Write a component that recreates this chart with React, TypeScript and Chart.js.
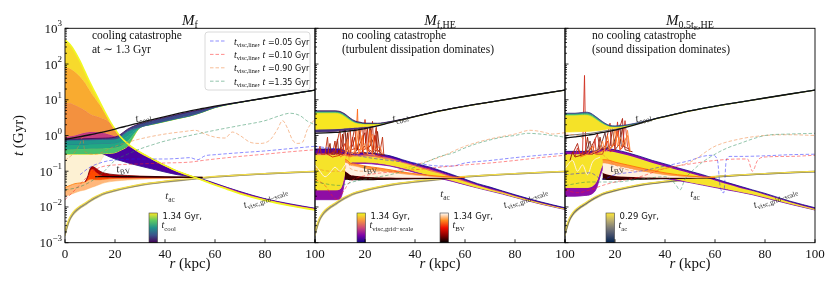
import { useEffect, useRef } from 'react';
import { Chart, registerables } from 'chart.js';

Chart.register(...registerables);

// ======================= DATA =======================
const X_TICKS = [0, 20, 40, 60, 80, 100];
const Y_TICK_EXP = [-3, -2, -1, 0, 1, 2, 3];
const LEGEND_TIMES = ['0.05', '0.10', '0.90', '1.35'];
const COLORBAR_TIMES = [['1.34 Gyr,'], ['1.34 Gyr,', '1.34 Gyr,'], ['0.29 Gyr,']];

// sound-crossing time t_ac (shared)
const TAC_R = [0, 1, 2, 3, 4, 6, 8, 10, 12, 15, 20, 25, 30, 40, 50, 60, 70, 80, 90, 100];
const TAC_MID = [0.0018, 0.0032, 0.0048, 0.0062, 0.0075, 0.0098, 0.012, 0.015, 0.018, 0.023, 0.029, 0.035, 0.041, 0.051, 0.06, 0.07, 0.078, 0.085, 0.092, 0.098];
const TAC_HI = [0.0021, 0.0036, 0.0053, 0.0068, 0.0082, 0.0106, 0.013, 0.016, 0.0192, 0.0243, 0.0305, 0.0366, 0.0428, 0.053, 0.062, 0.0715, 0.0795, 0.0865, 0.093, 0.099];
const TAC_LO = [0.00155, 0.0028, 0.0043, 0.0057, 0.0069, 0.0091, 0.0112, 0.014, 0.0169, 0.0218, 0.0277, 0.0336, 0.0395, 0.0492, 0.058, 0.0685, 0.0765, 0.0835, 0.091, 0.097];

// ---------- Panel 1: M_f ----------
const P1_R = [0, 2, 4, 6, 8, 10, 12, 14, 16, 18, 20, 22, 26, 30, 35, 40, 45, 50, 55, 60, 65, 70, 80, 90, 100];
const P1_VGS_LOW = [0.025, 0.03, 0.036, 0.045, 0.06, 0.08, 0.12, 0.18, 0.28, 0.25, 0.22, 0.2, 0.165, 0.14, 0.115, 0.095, 0.08, 0.072, 0.06, 0.046, 0.035, 0.027, 0.017, 0.0122, 0.0092];
const P1_VGS_0 = [0.4, 0.4, 0.4, 0.4, 0.4, 0.38, 0.36, 0.33, 0.29, 0.25, 0.22, 0.2, 0.165, 0.14, 0.115, 0.095, 0.08, 0.072, 0.06, 0.046, 0.035, 0.027, 0.017, 0.0122, 0.0092];
const P1_VGS_1 = [0.6, 0.6, 0.6, 0.6, 0.6, 0.6, 0.6, 0.6, 0.6, 0.6, 0.58, 0.55, 0.48, 0.32, 0.21, 0.14, 0.098, 0.074, 0.058, 0.044, 0.034, 0.026, 0.0165, 0.0118, 0.009];
const P1_VGS_2 = [0.9, 0.95, 1.0, 1.1, 1.2, 1.25, 1.25, 1.2, 1.15, 1.05, 0.95, 0.85, 0.5, 0.335, 0.218, 0.143, 0.099, 0.074, 0.057, 0.043, 0.033, 0.025, 0.016, 0.0114, 0.0086];
const P1_VGS_3 = [8, 8, 7, 6, 5, 4, 3.5, 3.2, 2.8, 2.2, 1.45, 0.9, 0.51, 0.337, 0.219, 0.144, 0.099, 0.074, 0.057, 0.042, 0.032, 0.024, 0.0157, 0.0112, 0.0085];
const P1_VGS_4 = [80, 75, 60, 45, 30, 18, 11, 7, 4.2, 2.4, 1.48, 0.93, 0.515, 0.338, 0.22, 0.145, 0.1, 0.075, 0.057, 0.042, 0.032, 0.024, 0.0156, 0.0111, 0.0084];
const P1_VGS_5 = [470, 350, 220, 120, 60, 30, 16, 8.5, 4.5, 2.5, 1.5, 0.95, 0.52, 0.34, 0.22, 0.145, 0.1, 0.075, 0.056, 0.041, 0.031, 0.0235, 0.0153, 0.0108, 0.0082];

const P1_CR = [0, 5, 10, 15, 20, 22, 25, 30, 35, 40, 45, 50, 55, 60, 70, 80, 90, 100];
const P1_TCOOL_INIT = [0.78, 0.9, 1.05, 1.25, 1.5, 1.65, 1.85, 2.3, 2.8, 3.4, 4.1, 4.9, 5.7, 6.6, 8.6, 11.2, 14.5, 18.7];
const P1_TC_A = [0.79, 0.8, 0.82, 0.84, 0.9, 1.05, 1.5, 2.15, 2.65, 3.2, 3.85, 4.6, 5.4, 6.4, 8.55, 11.15, 14.45, 18.65];
const P1_TC_B = [0.74, 0.75, 0.76, 0.78, 0.8, 0.9, 1.3, 1.72, 2.12, 2.55, 3.05, 3.6, 4.6, 6.15, 8.5, 11.1, 14.4, 18.6];
const P1_TC_C = [0.55, 0.57, 0.58, 0.6, 0.62, 0.68, 0.95, 1.68, 2.08, 2.5, 3.0, 3.55, 4.55, 6.1, 8.5, 11.1, 14.4, 18.6];
const P1_TC_D = [0.4, 0.42, 0.43, 0.44, 0.46, 0.5, 0.7, 1.66, 2.06, 2.47, 2.97, 3.52, 4.52, 6.05, 8.45, 11.05, 14.35, 18.55];
const P1_TC_E = [0.3, 0.3, 0.3, 0.31, 0.33, 0.38, 0.5, 1.65, 2.05, 2.45, 2.95, 3.5, 4.5, 6.0, 8.4, 11.0, 14.3, 18.5];

const P1_HR = [0, 2, 4, 6, 8, 9, 10, 11, 12, 14, 16, 20, 25, 30, 40, 50, 55];
const P1_BV_PALE = [0.02, 0.022, 0.025, 0.028, 0.03, 0.032, 0.034, 0.036, 0.038, 0.043, 0.048, 0.053, 0.057, 0.06, 0.063, 0.066, 0.067];
const P1_BV_ORANGE = [0.035, 0.04, 0.045, 0.047, 0.05, 0.055, 0.06, 0.06, 0.058, 0.058, 0.06, 0.063, 0.064, 0.065, 0.066, 0.067, 0.067];
const P1_BV_RED = [[8, 0.05], [9, 0.065], [10, 0.1], [11, 0.115], [12, 0.1], [14, 0.078], [16, 0.07], [20, 0.067], [25, 0.066], [30, 0.066], [40, 0.066], [50, 0.067], [55, 0.067]];
const P1_BV_DARK = [[8, 0.05], [9, 0.068], [10, 0.115], [11, 0.135], [12, 0.125], [14, 0.1], [16, 0.088], [20, 0.08], [25, 0.076], [30, 0.073], [40, 0.07], [50, 0.068], [55, 0.067]];
const P1_BV_BLACK = [[12, 0.07], [16, 0.071], [20, 0.071], [30, 0.07], [40, 0.069], [50, 0.068], [55, 0.067]];

const P1_LINE_005 = [[6, 0.08], [10, 0.13], [14, 0.17], [18, 0.2], [22, 0.21], [28, 0.22], [34, 0.22], [40, 0.22], [46, 0.23], [50, 0.24], [53, 0.21], [56, 0.27], [60, 0.29], [70, 0.33], [80, 0.37], [90, 0.43], [100, 0.5]];
const P1_LINE_010 = [[0, 0.016], [4, 0.03], [8, 0.06], [12, 0.11], [16, 0.14], [20, 0.15], [30, 0.16], [40, 0.17], [50, 0.18], [55, 0.2], [60, 0.22], [70, 0.26], [80, 0.3], [90, 0.35], [100, 0.4]];
const P1_LINE_090 = [[0, 0.2], [4, 0.35], [6, 0.6], [7, 0.9], [8, 0.35], [12, 0.3], [20, 0.5], [30, 0.8], [40, 1.1], [48, 1.3], [52, 1.4], [56, 1.1], [60, 0.9], [64, 0.85], [67, 1.25], [70, 1.0], [74, 0.65], [78, 0.6], [82, 0.75], [85, 1.5], [87, 2.6], [89, 1.6], [91, 0.75], [93, 0.6], [95, 0.65], [97, 1.5], [100, 2.9]];
const P1_LINE_135 = [[0, 0.03], [5, 0.035], [10, 0.05], [15, 0.09], [20, 0.2], [25, 0.3], [30, 0.42], [35, 0.55], [40, 0.7], [50, 1.0], [60, 1.4], [70, 1.9], [80, 2.6], [86, 3.6], [90, 4.2], [94, 3.6], [97, 2.5], [100, 2.0]];

// ---------- Panel 2: M_f,HE ----------
const P2_R = [0, 4, 8, 10, 11, 12, 13, 14, 16, 20, 25, 30, 35, 40, 46, 50, 55, 60, 65, 70, 75, 80, 90, 100];
const P2_VGS_0 = [0.42, 0.42, 0.42, 0.42, 0.4, 0.37, 0.34, 0.33, 0.33, 0.33, 0.31, 0.27, 0.21, 0.165, 0.13, 0.105, 0.08, 0.06, 0.045, 0.036, 0.028, 0.022, 0.014, 0.0095];
const P2_VGS_1 = [0.32, 0.32, 0.32, 0.32, 0.31, 0.3, 0.29, 0.29, 0.29, 0.29, 0.27, 0.24, 0.19, 0.15, 0.115, 0.095, 0.072, 0.055, 0.042, 0.033, 0.027, 0.021, 0.0135, 0.0092];
const P2_VGS_2 = [0.28, 0.28, 0.28, 0.28, 0.27, 0.27, 0.26, 0.26, 0.26, 0.26, 0.24, 0.21, 0.17, 0.135, 0.1, 0.085, 0.065, 0.05, 0.039, 0.031, 0.025, 0.02, 0.013, 0.009];
const P2_VGS_3 = [0.03, 0.03, 0.03, 0.032, 0.045, 0.09, 0.14, 0.17, 0.18, 0.18, 0.17, 0.15, 0.125, 0.1, 0.078, 0.068, 0.055, 0.044, 0.035, 0.029, 0.024, 0.019, 0.0125, 0.0087];
const P2_VGS_4 = [0.016, 0.016, 0.016, 0.017, 0.025, 0.06, 0.12, 0.15, 0.165, 0.165, 0.155, 0.14, 0.115, 0.092, 0.072, 0.063, 0.052, 0.042, 0.034, 0.028, 0.023, 0.0185, 0.0122, 0.0085];

const C_R = [0, 4, 8, 10, 12, 14, 16, 18, 20, 25, 30, 35, 40, 50, 60, 70, 80, 90, 100];
const P2_TCOOL_INIT = [1.15, 1.18, 1.22, 1.25, 1.3, 1.35, 1.4, 1.48, 1.55, 1.85, 2.3, 2.8, 3.4, 4.9, 6.6, 8.6, 11.2, 14.5, 18.7];
const P2_TC_A = [1.25, 1.28, 1.32, 1.35, 1.4, 1.45, 1.5, 1.58, 1.65, 1.9, 2.32, 2.8, 3.4, 4.9, 6.6, 8.6, 11.2, 14.5, 18.7];
const P2_TC_B = [1.5, 1.52, 1.55, 1.58, 1.62, 1.66, 1.7, 1.74, 1.78, 1.95, 2.33, 2.78, 3.35, 4.8, 6.5, 8.5, 11.0, 14.3, 18.5];
const P2_TC_C = [4.3, 4.3, 4.3, 4.1, 3.4, 2.7, 2.3, 2.15, 2.1, 2.1, 2.38, 2.82, 3.4, 4.9, 6.6, 8.6, 11.2, 14.5, 18.7];
const P2_TC_D = [4.6, 4.6, 4.6, 4.4, 3.7, 2.9, 2.4, 2.25, 2.15, 2.15, 2.42, 2.84, 3.42, 4.92, 6.62, 8.6, 11.2, 14.5, 18.7];
const P2_TC_E = [4.9, 4.9, 4.9, 4.7, 4.0, 3.1, 2.55, 2.35, 2.22, 2.2, 2.45, 2.86, 3.44, 4.94, 6.64, 8.62, 11.22, 14.52, 18.72];

const P2_WR = [12, 13, 14, 16, 18, 20, 25, 30, 35, 40, 45, 50, 55, 60];
const P2_BV_0 = [0.06, 0.06, 0.058, 0.058, 0.058, 0.058, 0.059, 0.06, 0.061, 0.062, 0.063, 0.064, 0.065, 0.066];
const P2_BV_1 = [0.1, 0.09, 0.08, 0.075, 0.072, 0.07, 0.068, 0.067, 0.066, 0.066, 0.066, 0.066, 0.066, 0.067];
const P2_BV_3 = [0.18, 0.17, 0.15, 0.14, 0.13, 0.12, 0.105, 0.095, 0.085, 0.078, 0.073, 0.069, 0.067, 0.067];
const P2_BV_2 = [0.22, 0.2, 0.17, 0.16, 0.15, 0.14, 0.125, 0.11, 0.095, 0.085, 0.078, 0.072, 0.069, 0.067];
const P2_BV_WHITE = [[0, 0.15], [2, 0.1], [4, 0.07], [6, 0.09], [8, 0.13], [10, 0.1], [12, 0.15]];
const P2_SPIKE_A = [[4, 0.35], [5, 0.3], [6, 0.6], [6.5, 0.3], [8, 0.3], [9, 0.8], [9.5, 0.3], [11, 0.3], [12, 0.35], [13, 1.2], [13.5, 0.3], [15, 0.3], [17, 0.4], [18, 1.5], [19, 0.35], [21, 0.3], [22, 2.0], [23, 0.4], [24, 0.3], [25, 1.3], [26, 0.3], [28, 0.28]];
const P2_SPIKE_B = [[5, 0.3], [7, 0.25], [10, 0.28], [12, 0.6], [12.5, 0.3], [14, 0.28], [15, 0.9], [16, 0.3], [19, 0.35], [20, 2.8], [21, 0.4], [23, 0.3], [24, 1.0], [25, 0.3], [27, 0.25]];
const P2_SPIKE_C = [[10, 0.25], [12, 0.3], [14, 0.25], [16, 0.3], [17, 5.5], [17.5, 0.3], [18, 0.35], [19, 1.0], [19.5, 0.3], [21, 0.3], [22, 1.4], [23, 0.3], [26, 0.25]];
const P2_SPIKE_D = [[12, 0.28], [14, 0.5], [15, 0.3], [16, 0.4], [17, 0.3], [20, 0.6], [21, 0.3], [24, 0.28]];
const P2_SPIKE_E = [[7, 0.3], [8, 0.7], [8.5, 0.3], [10, 0.35], [11, 1.1], [11.5, 0.35], [14, 0.35], [16, 1.8], [16.5, 0.4], [18, 0.4], [20, 0.5], [21, 1.6], [21.5, 0.4], [23, 0.35], [24.5, 1.7], [25, 0.4], [27, 0.3]];
const P2_SPIKE_F = [[1, 0.3], [2, 0.5], [2.5, 0.3], [4, 0.3], [5, 0.9], [5.5, 0.3], [8, 0.35], [10, 1.5], [10.5, 0.35], [13, 0.4], [14, 2.5], [14.5, 0.4], [17, 0.45], [19, 2.2], [19.5, 0.4], [22, 0.5], [23, 2.5], [23.5, 0.4], [26, 0.35], [27, 0.9], [27.5, 0.3]];
const P2_SPIKE_G = [[9, 0.3], [11, 0.5], [12, 2.0], [12.5, 0.4], [15, 0.5], [16, 0.9], [17, 0.4], [18, 0.6], [20, 1.2], [20.5, 0.4], [22, 0.5], [24, 1.0], [25, 0.4]];
const P2_SPIKE_H = [[12, 0.3], [13, 0.8], [14, 0.3], [16, 0.35], [18, 2.4], [18.5, 0.4], [21, 0.5], [23, 1.1], [24, 0.4], [26, 0.5], [27, 0.3]];

const P2_LINE_005 = [[0, 0.5], [5, 0.45], [10, 0.4], [15, 0.3], [20, 0.25], [30, 0.2], [40, 0.17], [50, 0.14], [55, 0.14], [60, 0.17], [70, 0.2], [80, 0.24], [90, 0.28], [100, 0.32]];
const P2_LINE_010 = [[0, 0.06], [4, 0.04], [7, 0.02], [9, 0.016], [11, 0.025], [14, 0.05], [20, 0.075], [30, 0.095], [40, 0.11], [50, 0.13], [60, 0.15], [70, 0.17], [80, 0.2], [90, 0.24], [100, 0.28]];
const P2_LINE_090 = [[0, 0.12], [6, 0.1], [12, 0.1], [13, 0.6], [14, 0.12], [20, 0.1], [30, 0.1], [40, 0.15], [50, 0.25], [60, 0.5], [70, 0.8], [80, 1.1], [86, 1.4], [90, 1.3], [95, 1.1], [100, 1.2]];
const P2_LINE_135 = [[0, 0.05], [10, 0.04], [15, 0.05], [20, 0.06], [30, 0.08], [40, 0.13], [46, 0.2], [50, 0.26], [55, 0.32], [60, 0.45], [65, 0.6], [70, 0.75], [75, 0.9], [80, 1.0], [85, 1.15], [90, 1.1], [95, 1.0], [100, 0.9]];

// ---------- Panel 3: M_0.5tE,HE ----------
const P3_R = [0, 4, 8, 10, 12, 13, 14, 15, 16, 18, 20, 25, 30, 35, 40, 45, 50, 55, 60, 65, 70, 75, 80, 90, 100];
const P3_VGS_0 = [0.36, 0.36, 0.36, 0.36, 0.37, 0.38, 0.4, 0.42, 0.43, 0.42, 0.4, 0.33, 0.26, 0.2, 0.16, 0.125, 0.1, 0.08, 0.062, 0.048, 0.038, 0.03, 0.024, 0.0145, 0.0095];
const P3_VGS_1 = [0.3, 0.3, 0.3, 0.3, 0.31, 0.32, 0.34, 0.36, 0.37, 0.36, 0.34, 0.28, 0.22, 0.17, 0.135, 0.108, 0.088, 0.07, 0.055, 0.043, 0.034, 0.028, 0.022, 0.0135, 0.0088];
const P3_VGS_2 = [0.035, 0.035, 0.035, 0.036, 0.045, 0.06, 0.1, 0.15, 0.17, 0.17, 0.16, 0.13, 0.105, 0.085, 0.07, 0.06, 0.05, 0.043, 0.037, 0.032, 0.027, 0.023, 0.019, 0.0125, 0.0084];
const P3_VGS_3 = [0.02, 0.02, 0.021, 0.022, 0.028, 0.04, 0.07, 0.11, 0.13, 0.135, 0.13, 0.11, 0.09, 0.075, 0.063, 0.055, 0.048, 0.041, 0.035, 0.03, 0.026, 0.022, 0.018, 0.012, 0.0082];

const P3_TCOOL_INIT = [0.85, 0.92, 1.0, 1.05, 1.1, 1.18, 1.25, 1.33, 1.42, 1.75, 2.2, 2.8, 3.4, 4.9, 6.6, 8.6, 11.2, 14.5, 18.7];
const P3_TC_GREY = [1.0, 1.05, 1.12, 1.15, 1.2, 1.28, 1.35, 1.42, 1.5, 1.8, 2.25, 2.8, 3.4, 4.9, 6.6, 8.6, 11.2, 14.5, 18.7];
const P3_TC_B = [1.25, 1.27, 1.3, 1.32, 1.35, 1.4, 1.48, 1.55, 1.6, 1.8, 2.22, 2.76, 3.35, 4.8, 6.5, 8.5, 11.0, 14.3, 18.5];
const P3_TC_C = [3.7, 3.7, 3.8, 3.6, 3.0, 2.4, 2.0, 1.8, 1.75, 1.9, 2.25, 2.8, 3.4, 4.9, 6.6, 8.6, 11.2, 14.5, 18.7];
const P3_TC_D = [4.0, 4.0, 4.2, 4.0, 3.3, 2.6, 2.1, 1.85, 1.8, 1.95, 2.3, 2.82, 3.42, 4.92, 6.62, 8.6, 11.2, 14.5, 18.7];
const P3_TC_E = [4.2, 4.2, 4.5, 4.3, 3.5, 2.75, 2.2, 1.9, 1.85, 2.0, 2.35, 2.85, 3.44, 4.94, 6.64, 8.62, 11.22, 14.52, 18.72];

const P3_WR = [15, 16, 18, 20, 25, 30, 35, 40, 45, 50, 55, 60];
const P3_BV_0 = [0.06, 0.06, 0.059, 0.059, 0.06, 0.06, 0.061, 0.062, 0.063, 0.064, 0.065, 0.066];
const P3_BV_1 = [0.09, 0.085, 0.078, 0.074, 0.07, 0.068, 0.067, 0.066, 0.066, 0.066, 0.066, 0.067];
const P3_BV_3 = [0.17, 0.17, 0.16, 0.15, 0.125, 0.105, 0.09, 0.08, 0.074, 0.07, 0.068, 0.067];
const P3_BV_2 = [0.21, 0.21, 0.2, 0.18, 0.15, 0.125, 0.105, 0.09, 0.08, 0.073, 0.069, 0.067];
const P3_BV_WHITE = [[0, 0.12], [3, 0.2], [5, 0.1], [7, 0.15], [9, 0.08], [11, 0.18], [14, 0.25]];
const P3_SPIKE_A = [[4, 0.25], [5, 0.45], [6, 0.3], [7, 0.3], [7.8, 48], [8.3, 0.35], [9, 0.3], [11, 0.3], [12, 0.8], [12.5, 0.3], [15, 0.3], [17, 0.7], [18, 0.35], [20, 0.4], [21, 2.4], [22, 0.4], [23, 0.45], [24, 2.6], [25, 0.5], [26, 0.35]];
const P3_SPIKE_B = [[2, 0.2], [3, 0.35], [4, 0.25], [8, 0.3], [9, 0.9], [10, 0.3], [13, 0.35], [14, 0.9], [15, 0.4], [18, 0.5], [19, 1.6], [20, 0.4], [22, 0.6], [23, 1.8], [24, 0.4], [27, 0.35]];
const P3_SPIKE_C = [[6, 0.25], [9, 0.3], [11, 0.5], [12, 0.3], [16, 0.4], [17, 1.0], [18, 0.4], [20, 0.6], [21, 1.3], [22, 0.4], [25, 1.0], [26, 0.35]];
const P3_SPIKE_D = [[8, 0.3], [10, 0.7], [11, 0.3], [14, 0.45], [16, 1.2], [17, 0.4], [19, 0.5], [22, 2.0], [22.5, 0.5], [24, 0.5]];
const P3_SPIKE_E = [[3, 0.3], [5, 0.6], [6, 0.3], [10, 0.4], [13, 1.1], [14, 0.4], [16, 0.5], [18, 2.2], [18.5, 0.5], [20, 0.6], [23, 3.0], [23.5, 0.5], [26, 0.4]];
const P3_SPIKE_F = [[10, 0.3], [14, 0.4], [15, 0.7], [16, 0.35], [19, 0.5], [20, 1.6], [21, 0.5], [22, 0.9], [24, 0.5], [25, 1.4], [26, 0.4]];

const P3_LINE_005 = [[0, 0.08], [10, 0.09], [15, 0.06], [20, 0.08], [30, 0.1], [40, 0.14], [50, 0.2], [55, 0.26], [59, 0.28], [61, 0.2], [62, 0.04], [63.5, 0.025], [64.5, 0.2], [66, 0.26], [70, 0.26], [80, 0.27], [90, 0.29], [100, 0.3]];
const P3_LINE_010 = [[0, 0.03], [5, 0.025], [10, 0.03], [15, 0.04], [20, 0.05], [30, 0.07], [40, 0.12], [50, 0.16], [60, 0.2], [70, 0.22], [73, 0.22], [75, 0.1], [77, 0.2], [80, 0.25], [90, 0.26], [100, 0.28]];
const P3_LINE_090 = [[0, 1.1], [5, 1.0], [10, 0.6], [15, 0.3], [20, 0.15], [30, 0.1], [40, 0.12], [50, 0.18], [60, 0.5], [70, 0.8], [80, 1.0], [90, 1.05], [100, 1.0]];
const P3_LINE_135 = [[0, 0.04], [10, 0.05], [20, 0.05], [30, 0.06], [40, 0.07], [44, 0.045], [46, 0.03], [48, 0.06], [52, 0.12], [55, 0.18], [60, 0.3], [65, 0.45], [70, 0.6], [75, 0.8], [80, 1.0], [90, 1.1], [100, 1.15]];

// ======================= STYLE =======================
const W = 830, H = 285;
const PLOT_TOP = 28.3, PLOT_BOTTOM = 242.7, PANEL_W = 250;
const PANEL_LEFT = [65, 315, 565];
const SERIF = "'Liberation Serif', 'DejaVu Serif', serif";
const SANS = "'DejaVu Sans', 'Liberation Sans', sans-serif";
const it = (s: number) => `italic ${s}px ${SERIF}`;
const rm = (s: number) => `${s}px ${SERIF}`;
const sf = (s: number) => `${s}px ${SANS}`;
const THIN = ['rgba(30,30,255,0.5)', 'rgba(255,30,30,0.5)', 'rgba(240,125,50,0.5)', 'rgba(40,140,90,0.5)'];
const VIRIDIS = ['#440154', '#3b528b', '#21918c', '#5ec962', '#fde725'];
const PLASMA = ['#0d0887', '#7e03a8', '#cc4778', '#f89540', '#f0f921'];
const HOT = ['#000000', '#8a0000', '#f01000', '#ff8a20', '#ffffff'];
const CIVIDIS = ['#00224e', '#414d6b', '#7c7b78', '#bcaf6f', '#fee838'];

type Seg = { s: string; f: string; dy?: number };
const sub = (name: string, size = 11): Seg[] => [{ s: 't', f: it(size) }, { s: name, f: rm(size * 0.68), dy: size * 0.25 }];

const TITLES: Seg[][] = [
  [{ s: 'M', f: it(15) }, { s: 'f', f: rm(10), dy: 3 }],
  [{ s: 'M', f: it(15) }, { s: 'f,HE', f: rm(10), dy: 3 }],
  [{ s: 'M', f: it(15) }, { s: '0.5t', f: rm(10), dy: 3 }, { s: 'E', f: rm(7), dy: 5 }, { s: ',HE', f: rm(10), dy: 3 }],
];
const NOTES = [
  ['cooling catastrophe', 'at \u223C 1.3 Gyr'],
  ['no cooling catastrophe', '(turbulent dissipation dominates)'],
  ['no cooling catastrophe', '(sound dissipation dominates)'],
];
const CURVE_LABELS = [
  [{ r: 31.2, t: 3.3, rot: -14, segs: sub('cool') }, { r: 23.2, t: 0.123, rot: -8, segs: sub('BV') }, { r: 42, t: 0.021, rot: 0, segs: sub('ac') }, { r: 80, t: 0.019, rot: -20, segs: sub('visc,grid\u2212scale', 10.5) }],
  [{ r: 34, t: 3.3, rot: -14, segs: sub('cool') }, { r: 22, t: 0.127, rot: -8, segs: sub('BV') }, { r: 52, t: 0.024, rot: 0, segs: sub('ac') }, { r: 84, t: 0.019, rot: -20, segs: sub('visc,grid\u2212scale', 10.5) }],
  [{ r: 31.2, t: 3.3, rot: -14, segs: sub('cool') }, { r: 20.8, t: 0.127, rot: -8, segs: sub('BV') }, { r: 52, t: 0.024, rot: 0, segs: sub('ac') }, { r: 84, t: 0.019, rot: -20, segs: sub('visc,grid\u2212scale', 10.5) }],
];
const COLORBARS = [
  [{ dx: 84, stops: VIRIDIS, name: 'cool' }],
  [{ dx: 42, stops: PLASMA, name: 'visc,grid\u2212scale' }, { dx: 125, stops: HOT, name: 'BV' }],
  [{ dx: 41, stops: CIVIDIS, name: 'ac' }],
];

// ======================= HELPERS =======================
const zip = (r: number[], t: number[]) => r.map((x, i) => ({ x, y: t[i] }));
const pairs = (a: number[][]) => a.map(([x, y]) => ({ x, y }));

class Builder {
  ds: any[] = [];
  push(d: any) { this.ds.push(d); return this.ds.length - 1; }
  line(data: any[], color: string, width = 1, extra: any = {}) {
    return this.push({ data, borderColor: color, backgroundColor: color, borderWidth: width, pointRadius: 0, pointHoverRadius: 0, fill: false, cubicInterpolationMode: 'monotone', ...extra });
  }
  band(data: any[], color: string, fillColor: string, target: number, width = 0.8) {
    return this.line(data, color, width, { fill: target, backgroundColor: fillColor });
  }
  spike(data: any[], color: string, width = 0.9) {
    return this.line(data, color, width, { cubicInterpolationMode: 'default', tension: 0 });
  }
  dashed(data: any[], color: string) { return this.line(data, color, 1, { borderDash: [3.5, 2] }); }
  finish() { const n = this.ds.length; return this.ds.map((d, i) => ({ ...d, order: n - i })); }
}

function tac(b: Builder, grey: string) {
  b.line(zip(TAC_R, TAC_LO), '#d8cb78', 1.2);
  b.line(zip(TAC_R, TAC_MID), grey, 1.7);
  b.line(zip(TAC_R, TAC_HI), '#f3dd45', 1.2);
}
function thin(b: Builder, lines: number[][][]) {
  lines.forEach((l, i) => b.dashed(pairs(l), THIN[i]));
}

function panel1() {
  const b = new Builder();
  tac(b, '#8a8678');
  const pl = b.line(zip(P1_R, P1_VGS_LOW), 'rgba(240,200,120,0.5)', 0.6);
  const p0 = b.band(zip(P1_R, P1_VGS_0), '#0d0887', 'rgba(250,215,130,0.35)', pl, 0.8);
  const p1 = b.band(zip(P1_R, P1_VGS_1), '#6a00a8', '#4c02a1', p0);
  const p2 = b.band(zip(P1_R, P1_VGS_2), '#b12a90', '#c33d80', p1);
  const p3 = b.band(zip(P1_R, P1_VGS_3), '#ec7853', '#f3913f', p2);
  const p4 = b.band(zip(P1_R, P1_VGS_4), '#fca636', '#f9ab30', p3);
  const h0 = b.line(zip(P1_HR, P1_BV_PALE), '#ffd2a0', 0.8);
  const h1 = b.band(zip(P1_HR, P1_BV_ORANGE), '#ff7a00', 'rgba(255,170,100,0.85)', h0);
  const h2 = b.band(pairs(P1_BV_RED), '#e01000', '#ff4a00', h1);
  b.band(pairs(P1_BV_DARK), '#7a0000', '#b00000', h2);
  b.line(pairs(P1_BV_BLACK), '#1a0000', 1.2);
  const v4 = b.line(zip(P1_CR, P1_TC_E), '#fde725', 1);
  const v3 = b.band(zip(P1_CR, P1_TC_D), '#5ec962', '#4ac16d', v4);
  const v2 = b.band(zip(P1_CR, P1_TC_C), '#21918c', '#22a884', v3);
  const v1 = b.band(zip(P1_CR, P1_TC_B), '#3b528b', '#1f988b', v2);
  b.band(zip(P1_CR, P1_TC_A), '#440154', '#3b4a89', v1);
  b.band(zip(P1_R, P1_VGS_5), '#f0f921', '#f7da2c', p4, 1.6);
  thin(b, [P1_LINE_005, P1_LINE_010, P1_LINE_090, P1_LINE_135]);
  b.line(zip(P1_CR, P1_TCOOL_INIT), '#111111', 1.3);
  return b.finish();
}

function panel2() {
  const b = new Builder();
  tac(b, '#8a8678');
  const q4 = b.line(zip(P2_R, P2_VGS_4), '#6a00a8', 0.8);
  const q3 = b.band(zip(P2_R, P2_VGS_3), '#f7e225', '#8f0da4', q4);
  const q2 = b.band(zip(P2_R, P2_VGS_2), '#f0f921', '#f6e32a', q3);
  const q1 = b.band(zip(P2_R, P2_VGS_1), '#7e03a8', '#ee7b51', q2);
  b.band(zip(P2_R, P2_VGS_0), '#0d0887', '#5c01a6', q1);
  b.line(pairs(P2_BV_WHITE), '#fff1dc', 1);
  const w0 = b.line(zip(P2_WR, P2_BV_0), '#000000', 1.2);
  const w1 = b.band(zip(P2_WR, P2_BV_1), '#7a0000', '#3a0000', w0);
  const w3 = b.band(zip(P2_WR, P2_BV_3), '#ffb070', '#fff0e0', w1);
  b.band(zip(P2_WR, P2_BV_2), '#ff6a00', '#ff9a45', w3);
  b.spike(pairs(P2_SPIKE_A), '#8b1a00');
  b.spike(pairs(P2_SPIKE_G), '#7a1000');
  b.spike(pairs(P2_SPIKE_E), '#b22000');
  b.spike(pairs(P2_SPIKE_F), '#c03010');
  b.spike(pairs(P2_SPIKE_B), '#d42a0a');
  b.spike(pairs(P2_SPIKE_C), '#ff6a1a');
  b.spike(pairs(P2_SPIKE_H), '#ff8040');
  b.spike(pairs(P2_SPIKE_D), '#ffa060');
  const a = b.line(zip(C_R, P2_TC_A), '#440154', 0.8);
  const bb = b.band(zip(C_R, P2_TC_B), '#fde725', '#46337e', a);
  const c = b.band(zip(C_R, P2_TC_C), '#b5de2b', '#f8e621', bb);
  const d = b.band(zip(C_R, P2_TC_D), '#21918c', '#6ccd5a', c);
  b.band(zip(C_R, P2_TC_E), '#440154', '#2c728e', d);
  thin(b, [P2_LINE_005, P2_LINE_010, P2_LINE_090, P2_LINE_135]);
  b.line(zip(C_R, P2_TCOOL_INIT), '#111111', 1.3);
  return b.finish();
}

function panel3() {
  const b = new Builder();
  tac(b, '#6f6e6c');
  const r3 = b.line(zip(P3_R, P3_VGS_3), '#6a00a8', 0.8);
  const r2 = b.band(zip(P3_R, P3_VGS_2), '#f7e225', '#8f0da4', r3);
  const r1 = b.band(zip(P3_R, P3_VGS_1), '#f0f921', '#f6e32a', r2);
  b.band(zip(P3_R, P3_VGS_0), '#0d0887', '#8b0aa5', r1);
  b.line(pairs(P3_BV_WHITE), '#fff1dc', 1);
  const w0 = b.line(zip(P3_WR, P3_BV_0), '#000000', 1.2);
  const w1 = b.band(zip(P3_WR, P3_BV_1), '#7a0000', '#3a0000', w0);
  const w3 = b.band(zip(P3_WR, P3_BV_3), '#ffb070', '#fff0e0', w1);
  b.band(zip(P3_WR, P3_BV_2), '#ff6a00', '#ff9a45', w3);
  b.spike(pairs(P3_SPIKE_B), '#8b1a00');
  b.spike(pairs(P3_SPIKE_D), '#6a3030');
  b.spike(pairs(P3_SPIKE_E), '#b02010');
  b.spike(pairs(P3_SPIKE_A), '#d03020');
  b.spike(pairs(P3_SPIKE_C), '#ff6a1a');
  b.spike(pairs(P3_SPIKE_F), '#ff8a40');
  b.line(zip(C_R, P3_TC_GREY), '#777777', 1);
  const bb = b.line(zip(C_R, P3_TC_B), '#fde725', 0.8);
  const c = b.band(zip(C_R, P3_TC_C), '#c8e020', '#f5e228', bb);
  const d = b.band(zip(C_R, P3_TC_D), '#21918c', '#5ec962', c);
  b.band(zip(C_R, P3_TC_E), '#443983', '#2a788e', d);
  thin(b, [P3_LINE_005, P3_LINE_010, P3_LINE_090, P3_LINE_135]);
  b.line(zip(C_R, P3_TCOOL_INIT), '#111111', 1.3);
  return b.finish();
}

function richWidth(ctx: CanvasRenderingContext2D, segs: Seg[]) {
  let w = 0;
  for (const g of segs) { ctx.font = g.f; w += ctx.measureText(g.s).width; }
  return w;
}
function drawRich(ctx: CanvasRenderingContext2D, x: number, y: number, segs: Seg[], align = 'left', rot = 0, color = '#000', dyBase = 0) {
  ctx.save();
  ctx.translate(x, y);
  ctx.rotate((rot * Math.PI) / 180);
  const w = richWidth(ctx, segs);
  let cx = align === 'center' ? -w / 2 : align === 'right' ? -w : 0;
  ctx.fillStyle = color;
  ctx.textBaseline = 'alphabetic';
  ctx.textAlign = 'left';
  for (const g of segs) {
    ctx.font = g.f;
    ctx.fillText(g.s, cx, dyBase + (g.dy || 0));
    cx += ctx.measureText(g.s).width;
  }
  ctx.restore();
}

function decor(p: number) {
  return {
    id: 'decor' + p,
    afterDraw(chart: any) {
      const ctx = chart.ctx as CanvasRenderingContext2D;
      const { left, right, top, bottom } = chart.chartArea;
      const X = (v: number) => chart.scales.x.getPixelForValue(v);
      const Y = (v: number) => chart.scales.y.getPixelForValue(v);
      ctx.save();
      for (const l of CURVE_LABELS[p]) drawRich(ctx, X(l.r), Y(l.t), l.segs, 'center', l.rot, '#333', 3.5);
      NOTES[p].forEach((s, i) => drawRich(ctx, left + 27, 38.5 + i * 14.5, [{ s, f: rm(11.5) }], 'left', 0, '#111'));
      if (p === 0) {
        const lx = 205, ly = 32, lw = 105, lh = 58;
        ctx.beginPath();
        ctx.roundRect(lx, ly, lw, lh, 3);
        ctx.fillStyle = 'rgba(255,255,255,0.85)';
        ctx.fill();
        ctx.strokeStyle = '#d0d0d0';
        ctx.lineWidth = 0.8;
        ctx.stroke();
        LEGEND_TIMES.forEach((tm, i) => {
          const yy = 41 + i * 13.4;
          ctx.beginPath();
          ctx.setLineDash([3.5, 2]);
          ctx.strokeStyle = THIN[i];
          ctx.lineWidth = 1;
          ctx.moveTo(210, yy); ctx.lineTo(226, yy);
          ctx.stroke();
          ctx.setLineDash([]);
          drawRich(ctx, 234, yy + 3.5, [{ s: 't', f: it(10) }, { s: 'visc,line', f: rm(6.2), dy: 2 }, { s: ', ', f: rm(10) }, { s: 't', f: it(10) }, { s: ' =' + tm + ' Gyr', f: sf(8) }], 'left', 0, '#111');
        });
      }
      COLORBARS[p].forEach((cb, i) => {
        const bx = left + cb.dx, bw = 8.5, bt = 213;
        const g = ctx.createLinearGradient(0, bottom, 0, bt);
        cb.stops.forEach((c, k) => g.addColorStop(k / (cb.stops.length - 1), c));
        ctx.fillStyle = g;
        ctx.fillRect(bx, bt, bw, bottom - bt);
        ctx.strokeStyle = '#444';
        ctx.lineWidth = 0.6;
        ctx.strokeRect(bx, bt, bw, bottom - bt);
        drawRich(ctx, bx + bw + 5, 219, [{ s: COLORBAR_TIMES[p][i], f: sf(8.5) }], 'left', 0, '#111');
        drawRich(ctx, bx + bw + 4, 228, sub(cb.name, 10), 'left', 0, '#222');
      });
      ctx.strokeStyle = '#000';
      ctx.lineWidth = 0.9;
      ctx.strokeRect(left, top, right - left, bottom - top);
      ctx.beginPath();
      ctx.lineWidth = 0.8;
      for (const v of X_TICKS) { const x = X(v); ctx.moveTo(x, bottom); ctx.lineTo(x, bottom - 3.5); }
      for (const e of Y_TICK_EXP) {
        const y = Y(Math.pow(10, e));
        ctx.moveTo(left, y); ctx.lineTo(left + 3.5, y);
        if (e < 3) for (let m = 2; m <= 9; m++) { const y2 = Y(m * Math.pow(10, e)); ctx.moveTo(left, y2); ctx.lineTo(left + 2, y2); }
      }
      ctx.stroke();
      for (const v of X_TICKS) {
        if (p > 0 && v === 0) continue;
        drawRich(ctx, X(v), bottom + 15, [{ s: String(v), f: rm(13) }], 'center', 0, '#111');
      }
      if (p === 0) {
        for (const e of Y_TICK_EXP) {
          const ex = e < 0 ? '\u2212' + Math.abs(e) : String(e);
          drawRich(ctx, left - 3, Y(Math.pow(10, e)) + 4.5, [{ s: '10', f: rm(13) }, { s: ex, f: rm(9), dy: -6.5 }], 'right', 0, '#111');
        }
        drawRich(ctx, 23, (top + bottom) / 2, [{ s: 't', f: it(15) }, { s: ' (Gyr)', f: rm(15) }], 'center', -90, '#111');
      }
      drawRich(ctx, (left + right) / 2, 268, [{ s: 'r', f: it(15) }, { s: ' (kpc)', f: rm(15) }], 'center', 0, '#111');
      drawRich(ctx, (left + right) / 2, 25, TITLES[p], 'center', 0, '#111');
      ctx.restore();
    },
  };
}

const PANEL_DATA = [panel1, panel2, panel3];

function makeChart(canvas: HTMLCanvasElement, p: number) {
  const left = PANEL_LEFT[p];
  return new Chart(canvas, {
    type: 'line',
    data: { datasets: PANEL_DATA[p]() as any },
    options: {
      responsive: false,
      animation: false,
      devicePixelRatio: 1,
      events: [],
      layout: { padding: { left, right: W - left - PANEL_W, top: PLOT_TOP, bottom: H - PLOT_BOTTOM } },
      plugins: { legend: { display: false }, tooltip: { enabled: false }, title: { display: false } },
      scales: {
        x: { type: 'linear', min: 0, max: 100, display: false },
        y: { type: 'logarithmic', min: 1e-3, max: 1e3, display: false },
      },
    } as any,
    plugins: [decor(p)],
  });
}

export default function App() {
  const r0 = useRef<HTMLCanvasElement>(null);
  const r1 = useRef<HTMLCanvasElement>(null);
  const r2 = useRef<HTMLCanvasElement>(null);
  useEffect(() => {
    const charts = [r0, r1, r2].map((r, i) => makeChart(r.current as HTMLCanvasElement, i));
    return () => charts.forEach((c) => c.destroy());
  }, []);
  return (
    <div style={{ position: 'fixed', left: 0, top: 0, width: W, height: H, background: '#fff' }}>
      {[r0, r1, r2].map((r, i) => (
        <canvas key={i} ref={r} width={W} height={H} style={{ position: 'absolute', left: 0, top: 0 }} />
      ))}
    </div>
  );
}
